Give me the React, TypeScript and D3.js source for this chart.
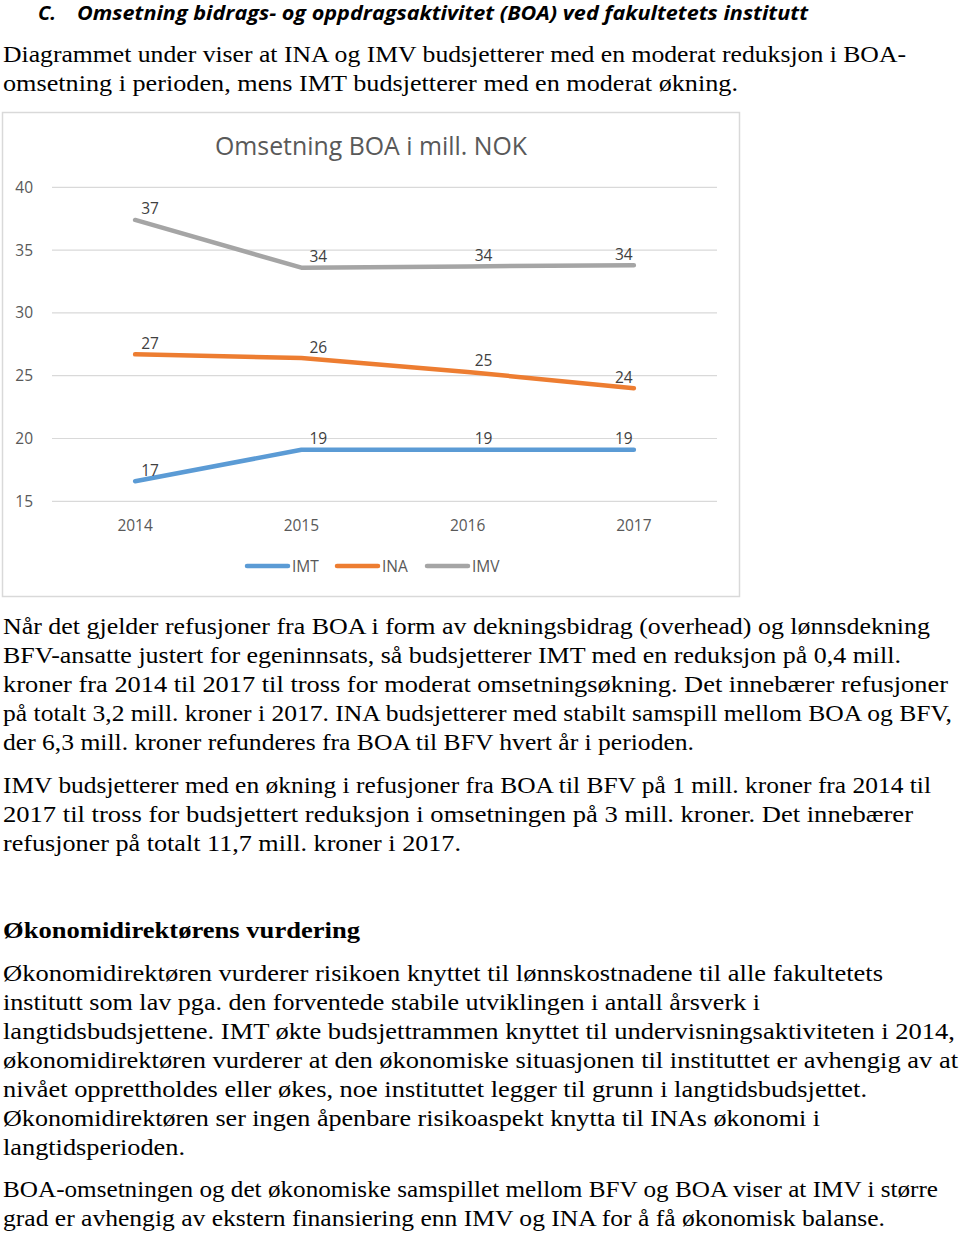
import React from "react";
import * as d3 from "d3";

// ---- chart data ----
const years = ["2014", "2015", "2016", "2017"];
const seriesNames = ["IMT", "INA", "IMV"];
const imtValues = [16.6, 19.1, 19.1, 19.1];
const inaValues = [26.7, 26.4, 25.3, 24.0];
const imvValues = [37.4, 33.6, 33.7, 33.8];
const yTicks = [15, 20, 25, 30, 35, 40];
const chartTitle = "Omsetning BOA i mill. NOK";

const seriesColors = ["#5B9BD5", "#ED7D31", "#A5A5A5"];

// ---- page text (layout lines) ----
const headingLetter = "C.";
const headingText = "Omsetning bidrags- og oppdragsaktivitet (BOA) ved fakultetets institutt";

type Line = { t: string; y: number; w: number; bold?: boolean };
const introLines: Line[] = [
  { t: "Diagrammet under viser at INA og IMV budsjetterer med en moderat reduksjon i BOA-", y: 62, w: 903 },
  { t: "omsetning i perioden, mens IMT budsjetterer med en moderat økning.", y: 91, w: 735 },
];
const bodyLines: Line[] = [
  { t: "Når det gjelder refusjoner fra BOA i form av dekningsbidrag (overhead) og lønnsdekning", y: 634, w: 927 },
  { t: "BFV-ansatte justert for egeninnsats, så budsjetterer IMT med en reduksjon på 0,4 mill.", y: 663, w: 898 },
  { t: "kroner fra 2014 til 2017 til tross for moderat omsetningsøkning. Det innebærer refusjoner", y: 692, w: 945 },
  { t: "på totalt 3,2 mill. kroner i 2017. INA budsjetterer med stabilt samspill mellom BOA og BFV,", y: 721, w: 949 },
  { t: "der 6,3 mill. kroner refunderes fra BOA til BFV hvert år i perioden.", y: 750, w: 691 },
  { t: "IMV budsjetterer med en økning i refusjoner fra BOA til BFV på 1 mill. kroner fra 2014 til", y: 793, w: 928 },
  { t: "2017 til tross for budsjettert reduksjon i omsetningen på 3 mill. kroner.  Det innebærer", y: 822, w: 910 },
  { t: "refusjoner på totalt 11,7 mill. kroner i 2017.", y: 851, w: 458 },
  { t: "Økonomidirektørens vurdering", y: 938, w: 357, bold: true },
  { t: "Økonomidirektøren vurderer risikoen knyttet til lønnskostnadene til alle fakultetets", y: 981, w: 880 },
  { t: "institutt som lav pga. den forventede stabile utviklingen i antall årsverk i", y: 1010, w: 757 },
  { t: "langtidsbudsjettene.  IMT økte budsjettrammen knyttet til undervisningsaktiviteten i 2014,", y: 1039, w: 952 },
  { t: "økonomidirektøren vurderer at den økonomiske situasjonen til instituttet er avhengig av at", y: 1068, w: 955 },
  { t: "nivået opprettholdes eller økes, noe instituttet legger til grunn i langtidsbudsjettet.", y: 1097, w: 864 },
  { t: "Økonomidirektøren ser ingen åpenbare risikoaspekt knytta til INAs økonomi i", y: 1126, w: 817 },
  { t: "langtidsperioden.", y: 1155, w: 182 },
  { t: "BOA-omsetningen og det økonomiske samspillet mellom BFV og BOA viser at IMV i større", y: 1197, w: 935 },
  { t: "grad er avhengig av ekstern finansiering enn IMV og INA for å få økonomisk balanse.", y: 1226, w: 882 },
];

const serif = "'Liberation Serif', 'DejaVu Serif', serif";
const sans = "'Open Sans', sans-serif";

export default function App() {
  const series = [imtValues, inaValues, imvValues];

  const x = d3.scalePoint<string>().domain(years).range([52, 717]).padding(0.5);
  const y = d3.scaleLinear().domain([15, 40]).range([501.3, 187.3]);

  const line = d3
    .line<number>()
    .x((_, i) => x(years[i]) as number)
    .y((d) => y(d));

  const fmt = d3.format(".0f");
  const labelDx = [15, 17, 16, -10];

  return (
    <svg
      width={960}
      height={1235}
      style={{ position: "absolute", left: 0, top: 0, background: "#fff" }}
    >
      <rect x={0} y={0} width={960} height={1235} fill="#fff" />
      {/* heading */}
      <text
        x={38}
        y={20}
        fontFamily={sans}
        fontWeight={700}
        fontStyle="italic"
        fontSize={20}
        fill="#000"
        textLength={18}
        lengthAdjust="spacingAndGlyphs"
      >
        {headingLetter}
      </text>
      <text
        x={77}
        y={20}
        fontFamily={sans}
        fontWeight={700}
        fontStyle="italic"
        fontSize={20}
        fill="#000"
        textLength={731}
        lengthAdjust="spacingAndGlyphs"
      >
        {headingText}
      </text>
      {introLines.concat(bodyLines).map((l, i) => (
        <text
          key={i}
          x={3}
          y={l.y}
          fontFamily={serif}
          fontWeight={l.bold ? 700 : 400}
          fontSize={22.5}
          fill="#000"
          textLength={l.w}
          lengthAdjust="spacingAndGlyphs"
        >
          {l.t}
        </text>
      ))}

      {/* chart frame */}
      <rect x={2.5} y={112.5} width={737} height={484} fill="#fff" stroke="#D9D9D9" strokeWidth={1.5} />
      <text
        x={371}
        y={155}
        textAnchor="middle"
        fontFamily={sans}
        fontSize={25}
        fill="#595959"
        textLength={312}
        lengthAdjust="spacingAndGlyphs"
      >
        {chartTitle}
      </text>

      {/* gridlines + y ticks */}
      {yTicks.map((t) => (
        <g key={t}>
          <line x1={52} x2={717} y1={y(t)} y2={y(t)} stroke="#D9D9D9" strokeWidth={1.2} />
          <text x={33} y={y(t) + 5.5} textAnchor="end" fontFamily={sans} fontSize={15.5} fill="#595959">
            {t}
          </text>
        </g>
      ))}

      {/* x labels */}
      {years.map((yr) => (
        <text key={yr} x={x(yr)} y={531} textAnchor="middle" fontFamily={sans} fontSize={15.5} fill="#595959">
          {yr}
        </text>
      ))}

      {/* lines */}
      {series.map((vals, si) => (
        <path
          key={si}
          d={line(vals) || ""}
          fill="none"
          stroke={seriesColors[si]}
          strokeWidth={4.5}
          strokeLinecap="round"
          strokeLinejoin="round"
        />
      ))}

      {/* data labels */}
      {series.map((vals, si) =>
        vals.map((v, i) => (
          <text
            key={`${si}-${i}`}
            x={(x(years[i]) as number) + labelDx[i]}
            y={y(v) - 11 + 5.5}
            textAnchor="middle"
            fontFamily={sans}
            fontSize={15.5}
            fill="#404040"
          >
            {fmt(v)}
          </text>
        ))
      )}

      {/* legend */}
      {seriesNames.map((n, i) => {
        const lx = 247 + i * 90;
        return (
          <g key={n}>
            <line x1={lx} x2={lx + 41} y1={566} y2={566} stroke={seriesColors[i]} strokeWidth={4.5} strokeLinecap="round" />
            <text x={lx + 45} y={571.5} fontFamily={sans} fontSize={15.5} fill="#595959">
              {n}
            </text>
          </g>
        );
      })}
    </svg>
  );
}
